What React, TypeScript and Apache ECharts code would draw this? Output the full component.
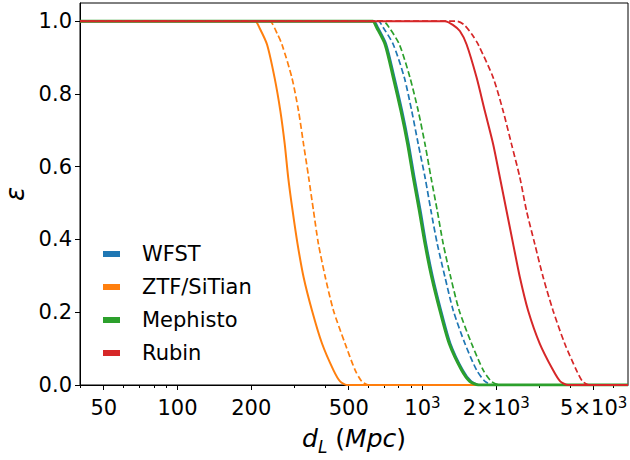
import React, { useEffect, useRef } from "react";
import * as echarts from "echarts";

// Axis ranges and ticks
const X_MIN = 40;
const X_MAX = 6900;
const Y_MIN = 0;
const Y_MAX = 1.05;
const xMajorTicks = [50, 100, 200, 500, 1000, 2000, 5000];
const xMinorTicks = [40, 60, 70, 80, 90, 300, 400, 600, 700, 800, 900, 3000, 4000, 6000];
const yTicks = [0, 0.2, 0.4, 0.6, 0.8, 1.0];

// Surveys
const surveys = ["WFST", "ZTF/SiTian", "Mephisto", "Rubin"];
const colors = ["#1f77b4", "#ff7f0e", "#2ca02c", "#d62728"];

// Efficiency curves: [d_L (Mpc), epsilon]
const wfstSolid = [
  [40, 1], [610, 1], [635, 1], [659, 0.982], [712, 0.936], [769, 0.845], [827, 0.753], [880, 0.662],
  [928, 0.571], [983, 0.479], [1036, 0.388], [1103, 0.297], [1192, 0.205], [1301, 0.114],
  [1461, 0.041], [1580, 0.01], [1708, 0], [1800, 0], [6900, 0],
];
const wfstDashed = [
  [40, 1], [640, 1], [661, 1], [692, 0.982], [760, 0.936], [843, 0.845], [904, 0.753], [961, 0.662],
  [1024, 0.571], [1083, 0.479], [1149, 0.388], [1235, 0.297], [1335, 0.205], [1490, 0.114],
  [1663, 0.041], [1800, 0.01], [1943, 0], [2050, 0], [6900, 0],
];
const ztfSolid = [
  [40, 1], [200, 1], [208, 1], [216, 0.982], [232, 0.936], [249, 0.845], [263, 0.753], [274, 0.662],
  [283, 0.571], [295, 0.479], [309, 0.388], [327, 0.297], [354, 0.205], [389, 0.114],
  [433, 0.041], [461, 0.01], [491, 0], [520, 0], [6900, 0],
];
const ztfDashed = [
  [40, 1], [228, 1], [238, 1], [256, 0.964], [267, 0.936], [293, 0.845], [312, 0.753], [327, 0.662],
  [343, 0.571], [359, 0.479], [376, 0.388], [401, 0.297], [433, 0.205], [483, 0.114],
  [531, 0.041], [565, 0.01], [602, 0], [640, 0], [6900, 0],
];
const mephistoSolid = [
  [40, 1], [605, 1], [627, 1], [651, 0.982], [704, 0.936], [760, 0.845], [817, 0.753], [870, 0.662],
  [917, 0.571], [971, 0.479], [1024, 0.388], [1090, 0.297], [1178, 0.205], [1286, 0.114],
  [1444, 0.041], [1560, 0.01], [1688, 0], [1780, 0], [6900, 0],
];
const mephistoDashed = [
  [40, 1], [670, 1], [692, 1], [732, 0.982], [805, 0.936], [889, 0.845], [961, 0.753], [1024, 0.662],
  [1083, 0.571], [1149, 0.479], [1215, 0.388], [1303, 0.297], [1412, 0.205], [1586, 0.114],
  [1769, 0.041], [1910, 0.01], [2069, 0], [2180, 0], [6900, 0],
];
const rubinSolid = [
  [40, 1], [1190, 1], [1235, 1], [1330, 0.99], [1421, 0.973], [1514, 0.936], [1663, 0.845],
  [1797, 0.753], [1943, 0.662], [2069, 0.571], [2203, 0.479], [2344, 0.388], [2496, 0.297],
  [2698, 0.205], [3010, 0.114], [3410, 0.041], [3650, 0.01], [3927, 0], [4150, 0], [6900, 0],
];
const rubinDashed = [
  [40, 1], [1330, 1], [1382, 1], [1480, 0.99], [1591, 0.964], [1688, 0.936], [1943, 0.845],
  [2134, 0.753], [2309, 0.662], [2496, 0.571], [2658, 0.479], [2872, 0.388], [3106, 0.297],
  [3410, 0.205], [3806, 0.114], [4247, 0.041], [4500, 0.01], [4812, 0], [5100, 0], [6900, 0],
];

const solidCurves = [wfstSolid, ztfSolid, mephistoSolid, rubinSolid];
const dashedCurves = [wfstDashed, ztfDashed, mephistoDashed, rubinDashed];
const solidWidths = [2, 2, 3, 2];

const FONT = "DejaVu Sans";

function formatX(v: number): string {
  const r = Math.round(v);
  if (r === 1000) return "10{sup|3}";
  if (r === 2000) return "2×10{sup|3}";
  if (r === 5000) return "5×10{sup|3}";
  return String(r);
}

export default function App() {
  const ref = useRef<HTMLDivElement>(null);

  useEffect(() => {
    if (!ref.current) return;
    const chart = echarts.init(ref.current, null, { renderer: "svg" });

    const series: any[] = [];
    surveys.forEach((name, i) => {
      series.push({
        type: "line",
        name,
        data: solidCurves[i],
        xAxisIndex: 0,
        yAxisIndex: 0,
        symbol: "none",
        smooth: 0.25,
        color: colors[i],
        lineStyle: { color: colors[i], width: solidWidths[i], type: "solid" },
        itemStyle: { color: colors[i] },
        z: 2 + i,
      });
      series.push({
        type: "line",
        name: name + " (dashed)",
        data: dashedCurves[i],
        xAxisIndex: 0,
        yAxisIndex: 0,
        symbol: "none",
        smooth: 0.25,
        color: colors[i],
        lineStyle: { color: colors[i], width: 1.7, type: [6, 3] },
        itemStyle: { color: colors[i] },
        z: 2 + i,
      });
    });

    const option: any = {
      animation: false,
      backgroundColor: "#ffffff",
      textStyle: { fontFamily: FONT },
      grid: {
        left: 80,
        right: 2,
        top: 3,
        bottom: 75,
        show: true,
        borderColor: "#000",
        borderWidth: 1,
        backgroundColor: "transparent",
        containLabel: false,
        outerBoundsMode: "none",
      },
      legend: {
        show: true,
        orient: "vertical",
        left: 103,
        top: 242,
        padding: 0,
        itemGap: 9,
        itemWidth: 17,
        itemHeight: 6,
        icon: "rect",
        data: surveys,
        selectedMode: false,
        formatter: (name: string) => "{gap| }" + name,
        textStyle: {
          fontFamily: FONT,
          fontSize: 21,
          color: "#000",
          lineHeight: 24,
          rich: {
            gap: { width: 17, fontSize: 21, lineHeight: 24 },
          },
        },
      },
      xAxis: [
        {
          type: "log",
          min: X_MIN,
          max: X_MAX,
          position: "bottom",
          name: "{i|d}{s|L}{n| (}{i|Mpc}{n|)}",
          nameLocation: "middle",
          nameGap: 40,
          nameTextStyle: {
            fontFamily: FONT,
            fontSize: 25,
            color: "#000",
            lineHeight: 30,
            rich: {
              i: { fontFamily: FONT, fontSize: 25, fontStyle: "italic", color: "#000", lineHeight: 30, verticalAlign: "top" },
              n: { fontFamily: FONT, fontSize: 25, color: "#000", lineHeight: 30, verticalAlign: "top" },
              s: { fontFamily: FONT, fontSize: 17, fontStyle: "italic", color: "#000", lineHeight: 20, verticalAlign: "bottom" },
            },
          },
          axisLine: { show: true, lineStyle: { color: "#000", width: 1 } },
          axisTick: { show: true, customValues: xMajorTicks, length: 5, lineStyle: { color: "#000", width: 1 } },
          minorTick: { show: false },
          splitLine: { show: false },
          axisLabel: {
            show: true,
            customValues: xMajorTicks,
            formatter: formatX,
            margin: 10,
            fontFamily: FONT,
            fontSize: 21,
            color: "#000",
            lineHeight: 26,
            rich: {
              sup: { fontFamily: FONT, fontSize: 15, color: "#000", lineHeight: 14, verticalAlign: "top" },
            },
          },
        },
        {
          type: "log",
          min: X_MIN,
          max: X_MAX,
          position: "bottom",
          axisLine: { show: false },
          axisTick: { show: true, customValues: xMinorTicks, length: 3, lineStyle: { color: "#000", width: 1 } },
          axisLabel: { show: false },
          splitLine: { show: false },
          minorTick: { show: false },
        },
      ],
      yAxis: {
        type: "value",
        min: Y_MIN,
        max: Y_MAX,
        name: "ε",
        nameLocation: "middle",
        nameRotate: 90,
        nameGap: 52,
        nameTextStyle: { fontFamily: FONT, fontSize: 26, fontStyle: "italic", color: "#000" },
        axisLine: { show: true, lineStyle: { color: "#000", width: 1 } },
        axisTick: { show: true, customValues: yTicks, length: 5, lineStyle: { color: "#000", width: 1 } },
        splitLine: { show: false },
        axisLabel: {
          show: true,
          customValues: yTicks,
          formatter: (v: number) => v.toFixed(1),
          margin: 8,
          fontFamily: FONT,
          fontSize: 21,
          color: "#000",
        },
      },
      series,
    };

    chart.setOption(option);
    return () => chart.dispose();
  }, []);

  return (
    <div
      ref={ref}
      style={{ position: "fixed", left: 0, top: 0, width: 630, height: 460, background: "#fff" }}
    />
  );
}
